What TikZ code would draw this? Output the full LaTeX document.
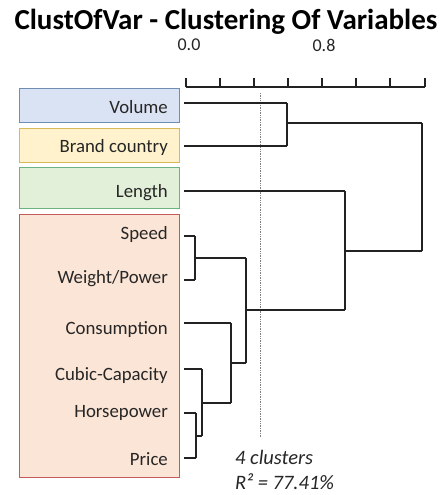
\documentclass[tikz,border=0pt]{standalone}
\usepackage{fontspec}
\setmainfont{Carlito}
\definecolor{txt}{HTML}{262626}
\definecolor{volfill}{HTML}{DAE3F3}
\definecolor{voldraw}{HTML}{6F8DB5}
\definecolor{brafill}{HTML}{FFF2CC}
\definecolor{bradraw}{HTML}{D9B95A}
\definecolor{lenfill}{HTML}{E2F0D9}
\definecolor{lendraw}{HTML}{6DB283}
\definecolor{redfill}{HTML}{FBE5D6}
\definecolor{reddraw}{HTML}{C45A5A}
\definecolor{dend}{HTML}{222222}
\tikzset{
  grpbox/.style={draw, line width=0.9pt, rectangle, inner sep=0pt, minimum width=160pt},
  leaflabel/.style={anchor=east, inner sep=0pt, text=txt, font=\fontsize{18.8}{22}\selectfont},
  hline/.style={draw=dend, line width=1.1pt},
  vline/.style={draw=dend, line width=2pt},
  tickmark/.style={draw=dend, line width=2pt},
  axislabel/.style={text=txt, font=\fontsize{18}{21}\selectfont, inner sep=0pt},
  note/.style={anchor=west, text=txt, font=\fontsize{20.5}{24}\itshape, inner sep=0pt}
}
\begin{document}
\begin{tikzpicture}[x=1pt,y=-1pt]
\useasboundingbox[fill=white] (0,0) rectangle (439,495);
% title
\node[font=\fontsize{29}{34}\selectfont\bfseries, text=black, inner sep=0pt] (title) at (226,22) {ClustOfVar - Clustering Of Variables};
% axis
\node[axislabel] (l00) at (189,45) {0.0};
\node[axislabel] (l08) at (324,45) {0.8};
\coordinate (ax0) at (186,87);
\coordinate (ax1) at (425,87);
\draw[draw=dend, line width=1.5pt] (ax0) -- (ax1);
\foreach \tx in {186,220,254,288,322,356,390,425}{
  \draw[tickmark] (\tx,87) -- (\tx,78);
}
% boxes
\node[grpbox, fill=volfill, draw=voldraw, minimum height=34pt] (bvol) at (99,105) {};
\node[grpbox, fill=brafill, draw=bradraw, minimum height=34pt] (bbra) at (99,145) {};
\node[grpbox, fill=lenfill, draw=lendraw, minimum height=41pt] (blen) at (99,187.5) {};
\node[grpbox, fill=redfill, draw=reddraw, minimum height=263pt] (bred) at (99,345.5) {};
% labels
\node[leaflabel] (tvol) at (168,107) {Volume};
\node[leaflabel] (tbra) at (168,147) {Brand country};
\node[leaflabel] (tlen) at (168,193) {Length};
\node[leaflabel] (tspe) at (168,234) {Speed};
\node[leaflabel] (twp)  at (168,279) {Weight/Power};
\node[leaflabel] (tcon) at (168,330) {Consumption};
\node[leaflabel] (tcub) at (168,375) {Cubic-Capacity};
\node[leaflabel] (thp)  at (168,413) {Horsepower};
\node[leaflabel] (tpri) at (168,459) {Price};
% dotted cut line
\coordinate (dtop) at (260,93);
\coordinate (dbot) at (260,437);
\draw[gray, densely dotted, line width=0.7pt] (dtop) -- (dbot);
% leaf ends
\coordinate (vol) at (184,103);
\coordinate (bra) at (184,146);
\coordinate (len) at (184,191);
\coordinate (spe) at (184,236);
\coordinate (wp)  at (184,280);
\coordinate (con) at (184,323);
\coordinate (cub) at (184,369);
\coordinate (hp)  at (184,413);
\coordinate (pri) at (184,458);
% merge points
\coordinate (m1) at (287,123);
\coordinate (m2) at (195,258);
\coordinate (m3) at (196,436);
\coordinate (m4) at (202,403);
\coordinate (m5) at (231,363);
\coordinate (m6) at (246,310);
\coordinate (m7) at (345,251);
\coordinate (m8) at (422,187);
% horizontals
\draw[hline] (vol) -- (vol -| m1);
\draw[hline] (bra) -- (bra -| m1);
\draw[hline] (len) -- (len -| m7);
\draw[hline] (spe) -- (spe -| m2);
\draw[hline] (wp) -- (wp -| m2);
\draw[hline] (con) -- (con -| m5);
\draw[hline] (cub) -- (cub -| m4);
\draw[hline] (hp) -- (hp -| m3);
\draw[hline] (pri) -- (pri -| m3);
\draw[hline] (m1) -- (m1 -| m8);
\draw[hline] (m2) -- (m2 -| m6);
\draw[hline] (m3) -- (m3 -| m4);
\draw[hline] (m4) -- (m4 -| m5);
\draw[hline] (m5) -- (m5 -| m6);
\draw[hline] (m6) -- (m6 -| m7);
\draw[hline] (m7) -- (m7 -| m8);
% verticals
\draw[vline] (vol -| m1) -- (bra -| m1);
\draw[vline] (spe -| m2) -- (wp -| m2);
\draw[vline] (hp -| m3) -- (pri -| m3);
\draw[vline] (cub -| m4) -- (m3 -| m4);
\draw[vline] (con -| m5) -- (m4 -| m5);
\draw[vline] (m2 -| m6) -- (m5 -| m6);
\draw[vline] (len -| m7) -- (m6 -| m7);
\draw[vline] (m1 -| m8) -- (m7 -| m8);
% notes
\node[note] (n1) at (235,457) {4 clusters};
\node[note] (n2) at (235,482) {R² = 77.41\%};
\end{tikzpicture}
\end{document}
